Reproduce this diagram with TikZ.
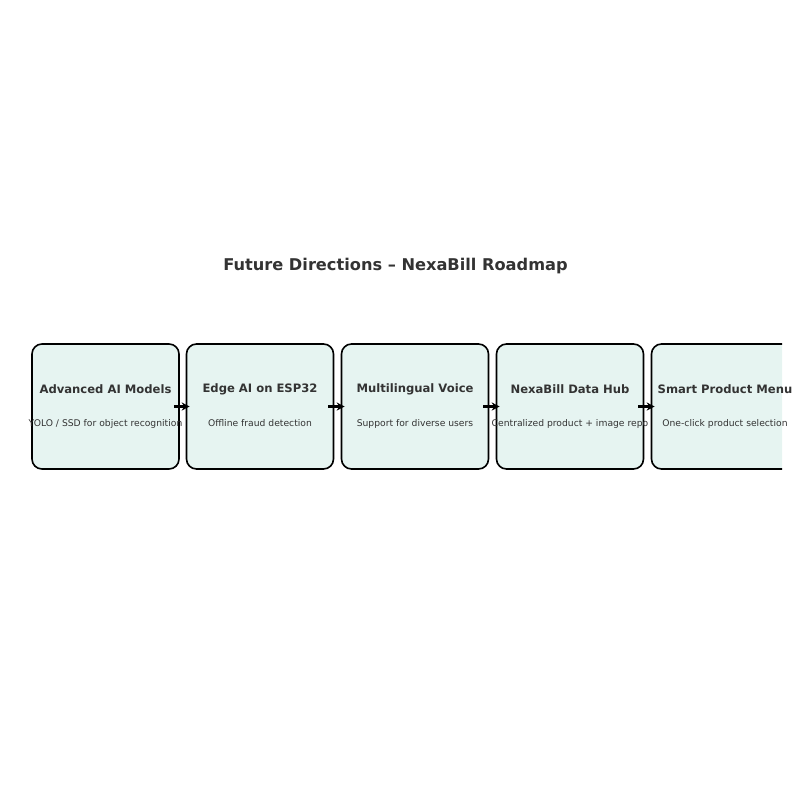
\documentclass[tikz,border=0pt]{standalone}
\usepackage{fontspec}
\setmainfont{DejaVu Sans}
\usetikzlibrary{arrows.meta}

\definecolor{boxfill}{HTML}{E6F4F1}
\definecolor{textgray}{HTML}{333333}

\tikzset{
  stage/.style={draw=black,fill=boxfill,line width=1.6pt,rounded corners=10pt,
    minimum width=147pt,minimum height=125pt,inner sep=0pt},
  stagetitle/.style={text=textgray,font=\fontsize{11.6}{14}\selectfont\bfseries,inner sep=0pt},
  stagenote/.style={text=textgray,font=\fontsize{9.2}{11}\selectfont,inner sep=0pt},
  flow/.style={-{Stealth[length=8pt,width=8pt]},line width=2.4pt}
}

\begin{document}
\begin{tikzpicture}[x=1pt,y=-1pt]
    \useasboundingbox (0,0) rectangle (800,800);
    \node[text=textgray,font=\fontsize{16.2}{19}\selectfont\bfseries] (title) at (395.5,266) {Future Directions -- NexaBill Roadmap};
    \begin{scope}
    \clip (0,0) rectangle (782,800);
    \node[stage] (A) at (105.5,406.5) {};
    \node[stage] (B) at (260,406.5) {};
    \node[stage] (C) at (415,406.5) {};
    \node[stage] (D) at (570,406.5) {};
    \node[stage] (E) at (725,406.5) {};
    \end{scope}
    \node[stagetitle] (At) at (105.5,389) {Advanced AI Models};
    \node[stagetitle] (Bt) at (260,389) {Edge AI on ESP32};
    \node[stagetitle] (Ct) at (415,389) {Multilingual Voice};
    \node[stagetitle] (Dt) at (570,389) {NexaBill Data Hub};
    \node[stagetitle] (Et) at (725,389) {Smart Product Menu};
    \node[stagenote] (An) at (105.5,423.5) {YOLO / SSD for object recognition};
    \node[stagenote] (Bn) at (260,423.5) {Offline fraud detection};
    \node[stagenote] (Cn) at (415,423.5) {Support for diverse users};
    \node[stagenote] (Dn) at (570,423.5) {Centralized product + image repo};
    \node[stagenote] (En) at (725,423.5) {One-click product selection};
    \draw[flow] ([xshift=-6pt]A.east) -- ([xshift=4pt]B.west);
    \draw[flow] ([xshift=-6pt]B.east) -- ([xshift=4pt]C.west);
    \draw[flow] ([xshift=-6pt]C.east) -- ([xshift=4pt]D.west);
    \draw[flow] ([xshift=-6pt]D.east) -- ([xshift=4pt]E.west);
\end{tikzpicture}
\end{document}
